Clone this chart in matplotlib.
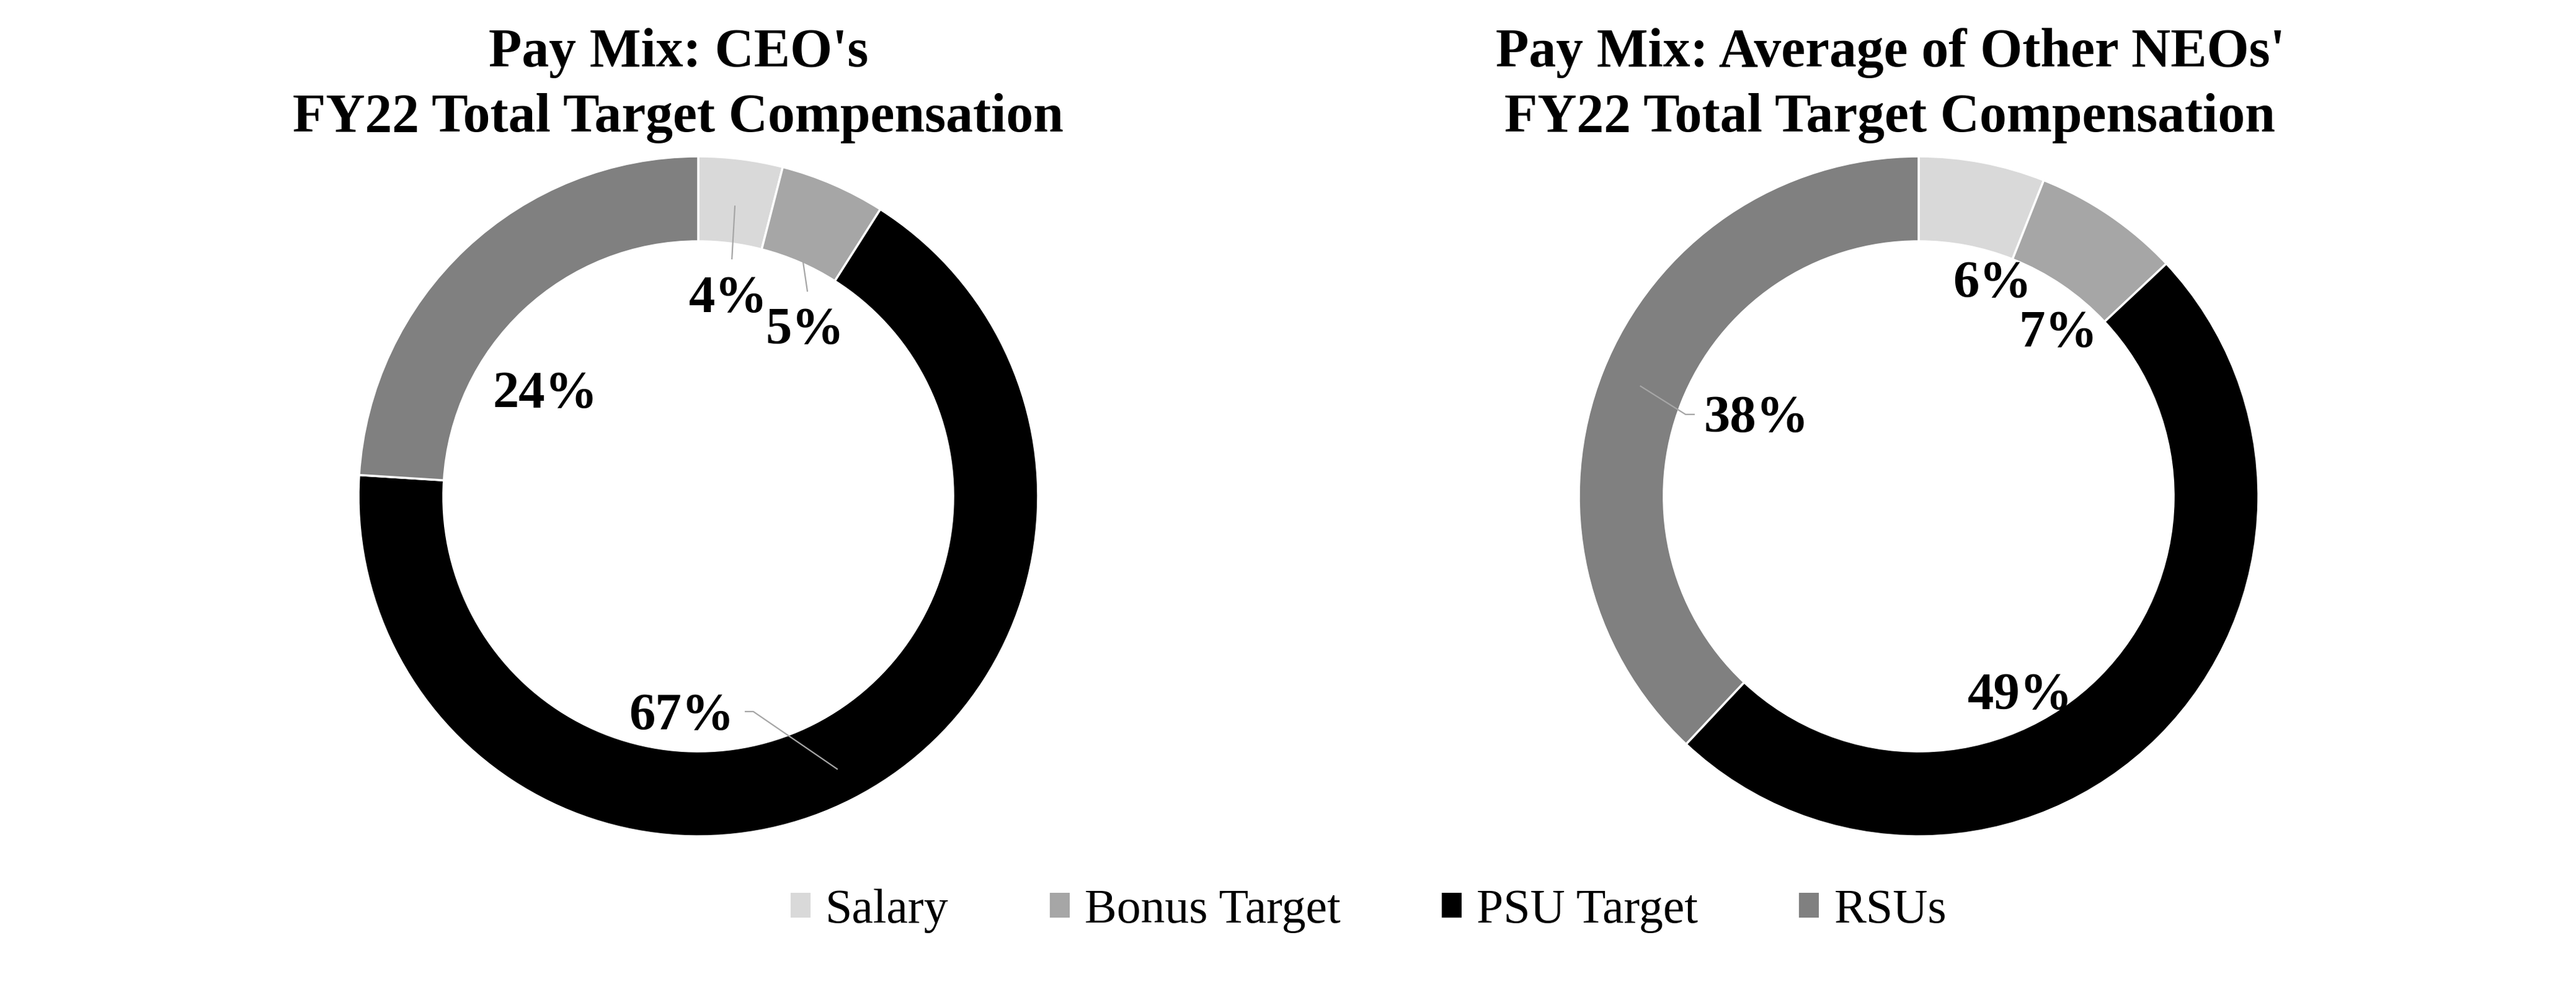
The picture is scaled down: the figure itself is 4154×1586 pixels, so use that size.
import matplotlib
matplotlib.use("Agg")
import matplotlib.pyplot as plt
from matplotlib.patches import Patch
import numpy as np

plt.rcParams['font.family'] = ['Liberation Serif', 'DejaVu Serif']

# ---- data ----
categories = ["Salary", "Bonus Target", "PSU Target", "RSUs"]
ceo_values = [4, 5, 67, 24]
neo_values = [6, 7, 49, 38]
title_lines = [["Pay Mix: CEO's", "FY22 Total Target Compensation"],
               ["Pay Mix: Average of Other NEOs'", "FY22 Total Target Compensation"]]
colors = ["#D9D9D9", "#A6A6A6", "#000000", "#808080"]

# ---- layout (pixels / radius units) ----
W, H, DPI = 4154, 1586, 100
R = 548            # donut outer radius in px
S = 700            # half-size of axes box in px
centers = [(1126, 800), (3094, 800)]
title_x = [1094, 3048]
title_baselines = [107, 212]
# label positions in radius units for each chart, per category
label_pos = [
    [(0.088, 0.580), (0.314, 0.487), (-0.049, -0.648), (-0.451, 0.299)],
    [(0.217, 0.624), (0.411, 0.478), (0.299, -0.589), (-0.478, 0.228)],
]
# leader lines: (chart, category) -> list of points after wedge start
leaders = {
    (0, 0): [(0.099, 0.699)],
    (0, 1): [(0.321, 0.604)],
    (0, 2): [(0.162, -0.633), (0.139, -0.633)],
    (1, 3): [(-0.686, 0.241), (-0.661, 0.241)],
}
leader_start_r = {(0, 0): 0.86, (0, 1): 0.77, (0, 2): 0.90, (1, 3): 0.88}

fig = plt.figure(figsize=(W / DPI, H / DPI), dpi=DPI)
fig.patch.set_facecolor("white")

lim = S / R
for i, (vals, (cx, cy)) in enumerate(zip([ceo_values, neo_values], centers)):
    ax = fig.add_axes([(cx - S) / W, (H - cy - S) / H, 2 * S / W, 2 * S / H])
    wedges, _ = ax.pie(vals, colors=colors, startangle=90, counterclock=False,
                       radius=1.0,
                       wedgeprops=dict(width=0.25, edgecolor="white", linewidth=2.5))
    ax.set_xlim(-lim, lim)
    ax.set_ylim(-lim, lim)
    ax.axis("off")
    for j, (w, v) in enumerate(zip(wedges, vals)):
        key = (i, j)
        if key in leaders:
            ang = np.deg2rad((w.theta1 + w.theta2) / 2)
            r0 = leader_start_r[key]
            pts = [(r0 * np.cos(ang), r0 * np.sin(ang))] + leaders[key]
            xs, ys = zip(*pts)
            ax.plot(xs, ys, color="#A6A6A6", lw=1.6, zorder=3)
        tx, ty = label_pos[i][j]
        ax.text(tx, ty, f"{v}%", ha="center", va="center", fontsize=61,
                fontweight="bold", color="black", zorder=4)

for i, lines in enumerate(title_lines):
    for line, yb in zip(lines, title_baselines):
        fig.text(title_x[i] / W, 1 - yb / H, line, ha="center", va="baseline",
                 fontsize=63, fontweight="bold")

handles = [Patch(facecolor=c, edgecolor="none", label=l) for c, l in zip(colors, categories)]
fig.legend(handles=handles, loc="center", bbox_to_anchor=(2207 / W, 1 - 1468 / H),
           ncol=4, frameon=False, fontsize=56, handlelength=0.41, handleheight=0.41,
           handletextpad=0.31, columnspacing=2.1, borderpad=0, borderaxespad=0)

fig.savefig("out.png", dpi=DPI, facecolor="white")
